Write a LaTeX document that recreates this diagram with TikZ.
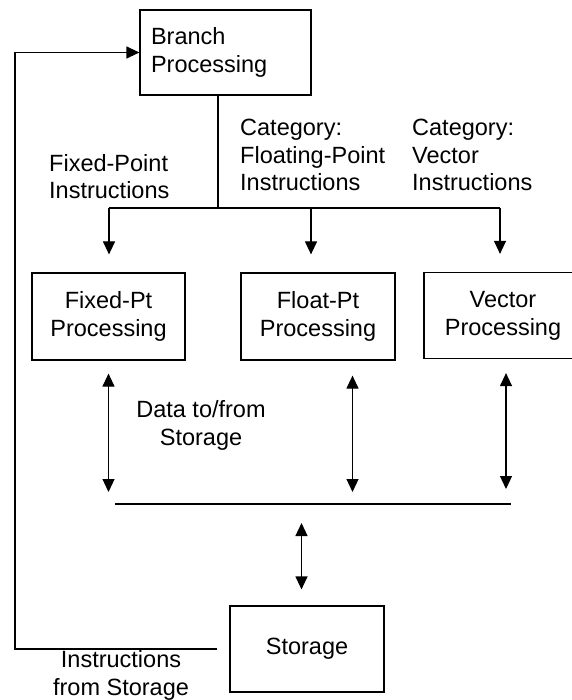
\documentclass[tikz,border=0pt]{standalone}
\usepackage{fontspec}
\setmainfont{Liberation Sans}
\usepackage{tikz}
\usetikzlibrary{arrows.meta}
\tikzstyle{box} = [draw, rectangle, line width=1.2pt, minimum height=86pt, inner sep=0pt, align=center, font=\fontsize{23.5}{28}\selectfont]
\tikzstyle{txt} = [inner sep=0pt, font=\fontsize{23.5}{27.5}\selectfont]
\tikzstyle{arr} = [line width=1.2pt, -{Triangle[width=12pt,length=13pt]}]
\tikzstyle{dbl} = [line width=1.2pt, {Triangle[width=12pt,length=13pt]}-{Triangle[width=12pt,length=13pt]}]

\begin{document}
\begin{tikzpicture}[x=1pt, y=-1pt]
	\useasboundingbox (0,0) rectangle (571,700) ;

	\node[box, minimum width=171pt, minimum height=85pt, text width=149pt, align=left] (Br) at (225.5, 52.5) {Branch\\Processing} ;
	\node[box, minimum width=153pt, minimum height=87pt] (Fx) at (108.5, 316.5) {Fixed-Pt\\Processing} ;
	\node[box, minimum width=154pt, minimum height=87pt] (Fl) at (318, 316.5) {Float-Pt\\Processing} ;
	\node[box, minimum width=158pt] (Ve) at (503, 315.5) {Vector\\Processing} ;
	\node[box, minimum width=154pt] (St) at (307, 649) {Storage} ;

	\node[txt, anchor=west, align=left] (lFx) at (49, 176.5) {Fixed-Point\\Instructions} ;
	\node[txt, anchor=west, align=left] (lFl) at (240, 155) {Category:\\Floating-Point\\Instructions} ;
	\node[txt, anchor=west, align=left] (lVe) at (412, 155) {Category:\\Vector\\Instructions} ;
	\node[txt, align=center] (lData) at (201, 425.5) {Data to/from\\Storage} ;
	\node[txt, align=center] (lInst) at (121, 675.5) {Instructions\\from Storage} ;

	% branch fan-out
	\coordinate (s0) at (218, 208) ;
	\coordinate (s1) at (109, 208) ;
	\coordinate (s2) at (311, 208) ;
	\coordinate (s3) at (500, 208) ;
	\draw[line width=1.2pt] (s0 |- Br.south) -- (s0) ;
	\draw[line width=1.2pt] (s1) -- (s3) ;
	\draw[arr, shorten >=18pt] (s1) -- (s1 |- Fx.north) ;
	\draw[arr, shorten >=18pt] (s2) -- (s2 |- Fl.north) ;
	\draw[arr, shorten >=18pt] (s3) -- (s3 |- Ve.north) ;

	% data bus
	\coordinate (bl) at (115, 504) ;
	\coordinate (br) at (511, 504) ;
	\coordinate (b0) at (301.5, 504) ;
	\coordinate (b1) at (108.5, 504) ;
	\coordinate (b2) at (352.5, 504) ;
	\coordinate (b3) at (506, 504) ;
	\draw[line width=1.2pt] (bl) -- (br) ;
	\draw[dbl, shorten <=12pt, shorten >=13pt] (b1) -- (b1 |- Fx.south) ;
	\draw[dbl, shorten <=12pt, shorten >=15pt] (b2) -- (b2 |- Fl.south) ;
	\draw[dbl, shorten <=15pt, shorten >=14pt] (b3) -- (b3 |- Ve.south) ;
	\draw[dbl, shorten <=19pt, shorten >=16pt] (b0) -- (b0 |- St.north) ;

	% instructions back to branch
	\coordinate (loop) at (15, 649) ;
	\draw[arr] ([xshift=-12pt]St.west) -- (loop) |- (Br.west) ;
\end{tikzpicture}
\end{document}
